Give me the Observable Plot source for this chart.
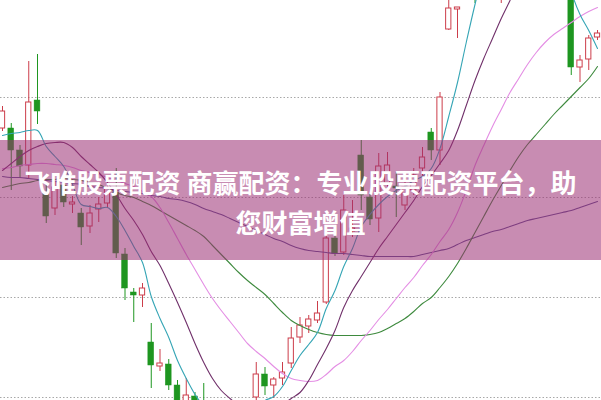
<!DOCTYPE html>
<html>
<head>
<meta charset="utf-8">
<script src="https://cdn.jsdelivr.net/npm/d3@7"></script>
<script src="https://cdn.jsdelivr.net/npm/@observablehq/plot@0.6"></script>
<style>
  html, body { margin: 0; padding: 0; background: #fff; }
  #wrap { position: relative; width: 601px; height: 400px; overflow: hidden; background: #fff; }
  #band {
    position: absolute; left: 0; top: 140px; width: 601px; height: 120px;
    background: rgba(155, 45, 115, 0.55);
    color: #fff; font-family: "Noto Sans CJK SC", "Noto Sans", sans-serif;
    font-weight: 700; font-size: 26px; line-height: 40px; text-align: center;
    box-sizing: border-box; padding-top: 22px; white-space: nowrap;
  }
</style>
</head>
<body>
<div id="wrap">
  <div id="chart"></div>
  <div id="band">飞唯股票配资 商赢配资：专业股票配资平台，助<br>您财富增值</div>
</div>
<script>
// Candle prices (one per trading day)
const open = [11.69, 11.69, 11.47, 11.32, 11.97, 11.04, 10.89, 11.12, 10.93, 10.84,
  10.71, 10.88, 10.94, 11.05, 10.43, 10.05, 10.02, 9.55, 9.31, 9.33,
  9.12, 8.87, 9.01, 8.95, 8.87, 8.57, 8.35, 8.52, 8.42, 9.00,
  9.23, 9.12, 9.19, 9.34, 9.60, 9.71, 9.77, 9.95, 10.59, 10.45,
  10.66, 11.42, 11.00, 10.79, 11.14, 11.11, 10.92, 11.07, 11.29, 11.65,
  11.47, 12.68, 12.88, 13.17, 13.57, 13.27, 13.82, 13.27, 13.92, 14.27,
  13.97, 14.47, 14.67, 14.37, 14.07, 13.67, 12.30, 12.38, 12.60];
const close = [11.86, 11.47, 11.31, 11.95, 11.86, 10.81, 11.10, 10.95, 10.95, 10.70,
  10.84, 10.93, 11.09, 10.44, 10.09, 10.02, 10.09, 9.32, 9.34, 9.12,
  8.87, 9.02, 8.85, 8.77, 8.57, 8.37, 8.52, 8.42, 8.77, 9.23,
  9.11, 9.18, 9.25, 9.59, 9.72, 9.78, 9.84, 10.59, 10.44, 10.87,
  10.69, 11.02, 10.78, 11.31, 11.32, 11.09, 11.10, 11.22, 11.40, 11.47,
  12.00, 12.89, 12.90, 13.67, 13.27, 13.77, 13.47, 13.92, 14.27, 13.97,
  14.47, 14.67, 14.37, 14.07, 13.67, 12.30, 12.37, 12.59, 12.64];
const high = [11.91, 11.74, 11.52, 12.36, 12.43, 11.12, 11.15, 11.19, 11.01, 10.89,
  10.92, 11.00, 11.17, 11.29, 10.49, 10.09, 10.14, 9.74, 9.48, 9.38,
  9.17, 9.19, 9.05, 9.14, 8.92, 8.65, 8.59, 8.62, 8.85, 9.35,
  9.30, 9.20, 9.35, 9.70, 9.80, 9.82, 9.96, 10.64, 10.64, 11.02,
  10.97, 11.57, 11.04, 11.44, 11.45, 11.25, 11.19, 11.29, 11.50, 11.69,
  12.05, 13.02, 12.90, 13.77, 13.72, 13.92, 13.97, 14.07, 14.37, 14.42,
  14.57, 14.82, 14.77, 14.47, 14.17, 13.77, 12.42, 12.62, 12.67];
const low = [11.66, 11.07, 11.19, 11.19, 11.73, 10.74, 10.82, 10.90, 10.84, 10.52,
  10.64, 10.75, 10.89, 10.39, 9.97, 9.75, 9.90, 9.09, 9.26, 9.07,
  8.77, 8.82, 8.77, 8.72, 8.47, 8.27, 8.27, 8.35, 8.37, 8.92,
  9.02, 8.99, 9.12, 9.29, 9.54, 9.64, 9.74, 9.93, 10.41, 10.42,
  10.60, 10.87, 10.72, 10.65, 11.04, 10.80, 10.87, 11.02, 11.05, 11.37,
  11.32, 12.67, 12.59, 13.09, 12.94, 13.19, 13.37, 12.94, 13.82, 13.87,
  13.89, 14.37, 14.27, 13.97, 13.57, 12.22, 12.15, 12.27, 12.57];

// Moving-average lines
const ma5 = [11.62, 11.64, 11.65, 11.67, 11.67, 11.51, 11.41, 11.31, 11.13, 10.93,
  10.91, 10.89, 10.90, 10.81, 10.67, 10.51, 10.35, 10.01, 9.79, 9.60,
  9.37, 9.19, 9.03, 8.91, 8.79, 8.69, 8.65, 8.69, 8.79, 8.91,
  8.97, 9.01, 9.11, 9.27, 9.42, 9.53, 9.65, 9.89, 10.07, 10.31,
  10.49, 10.71, 10.83, 10.93, 11.01, 11.07, 11.11, 11.17, 11.21, 11.29,
  11.49, 11.81, 12.15, 12.55, 12.93, 13.27, 13.57, 13.77, 13.92, 14.07,
  14.17, 14.22, 14.22, 14.12, 13.77, 13.07, 12.83, 12.67, 12.49];
const ma10 = [11.27, 11.34, 11.41, 11.47, 11.51, 11.54, 11.55, 11.55, 11.50, 11.41,
  11.33, 11.25, 11.15, 11.03, 10.89, 10.77, 10.63, 10.46, 10.32, 10.14,
  9.95, 9.75, 9.54, 9.35, 9.19, 9.07, 8.99, 8.92, 8.87, 8.83,
  8.83, 8.87, 8.93, 8.99, 9.05, 9.17, 9.33, 9.49, 9.67, 9.90,
  10.07, 10.21, 10.35, 10.49, 10.61, 10.73, 10.85, 10.97, 11.11, 11.22,
  11.34, 11.47, 11.67, 11.92, 12.17, 12.39, 12.59, 12.79, 12.97, 13.17,
  13.35, 13.49, 13.59, 13.67, 13.69, 13.65, 13.57, 13.47, 13.37];
const ma20 = [11.29, 11.30, 11.32, 11.33, 11.34, 11.34, 11.33, 11.32, 11.30, 11.27,
  11.25, 11.23, 11.20, 11.17, 11.14, 11.11, 11.06, 11.01, 10.90, 10.75,
  10.59, 10.43, 10.28, 10.13, 9.99, 9.87, 9.76, 9.65, 9.54, 9.46,
  9.39, 9.31, 9.24, 9.19, 9.17, 9.16, 9.17, 9.23, 9.31, 9.37,
  9.46, 9.57, 9.67, 9.78, 9.88, 9.99, 10.10, 10.20, 10.32, 10.43,
  10.56, 10.68, 10.85, 11.07, 11.32, 11.52, 11.71, 11.88, 12.05, 12.19,
  12.33, 12.45, 12.55, 12.63, 12.69, 12.75, 12.81, 12.86, 12.90];
const ma30 = [11.10, 11.12, 11.14, 11.15, 11.17, 11.18, 11.18, 11.19, 11.18, 11.17,
  11.15, 11.13, 11.09, 11.05, 11.02, 11.00, 10.96, 10.92, 10.87, 10.82,
  10.77, 10.72, 10.67, 10.61, 10.52, 10.43, 10.34, 10.25, 10.17, 10.10,
  10.03, 9.94, 9.85, 9.77, 9.72, 9.68, 9.65, 9.63, 9.62, 9.62,
  9.62, 9.62, 9.63, 9.65, 9.69, 9.74, 9.79, 9.86, 9.94, 10.00,
  10.10, 10.21, 10.34, 10.49, 10.65, 10.81, 10.97, 11.12, 11.27, 11.41,
  11.53, 11.63, 11.73, 11.83, 11.92, 12.01, 12.10, 12.19, 12.31];
const ma60 = [11.21, 11.20, 11.20, 11.19, 11.18, 11.17, 11.16, 11.15, 11.14, 11.13,
  11.11, 11.10, 11.09, 11.07, 11.06, 11.05, 11.04, 11.02, 11.01, 10.99,
  10.98, 10.96, 10.93, 10.89, 10.86, 10.83, 10.79, 10.75, 10.71, 10.67,
  10.63, 10.59, 10.56, 10.52, 10.49, 10.47, 10.46, 10.45, 10.44, 10.44,
  10.43, 10.42, 10.41, 10.41, 10.41, 10.41, 10.41, 10.41, 10.43, 10.45,
  10.47, 10.49, 10.53, 10.57, 10.60, 10.63, 10.66, 10.68, 10.71, 10.74,
  10.77, 10.79, 10.81, 10.83, 10.85, 10.87, 10.90, 10.93, 10.96];

// Dotted price grid lines
const gridTicks = [9, 10, 11, 12];

const RED = "#cc3d4a", GREEN = "#1e9620";
const idx = d3.range(open.length);
const isUp = i => close[i] >= open[i];
const maLine = (arr, color) => Plot.line(idx, {
  x: i => i, y: i => arr[i], stroke: color, strokeWidth: 1.1, curve: "catmull-rom", clip: true
});

const chart = Plot.plot({
  width: 601, height: 400, margin: 0,
  style: {background: "#fff"},
  x: {domain: [-2 / 8.75, 599 / 8.75], axis: null},
  y: {domain: [8.97, 12.97], axis: null},
  marks: [
    Plot.ruleY(gridTicks, {stroke: "#a8a8a8", strokeWidth: 1, strokeDasharray: "1.5,2"}),
    Plot.ruleX(idx, {filter: i => isUp(i), x: i => i, y1: i => low[i], y2: i => high[i], stroke: RED, clip: true}),
    Plot.ruleX(idx, {filter: i => !isUp(i), x: i => i, y1: i => low[i], y2: i => high[i], stroke: GREEN, clip: true}),
    Plot.rect(idx, {filter: i => isUp(i), x1: i => i - 0.3, x2: i => i + 0.3,
      y1: i => open[i], y2: i => close[i], fill: "#fff", stroke: RED, strokeWidth: 1, clip: true}),
    Plot.rect(idx, {filter: i => !isUp(i), x1: i => i - 0.33, x2: i => i + 0.33,
      y1: i => open[i], y2: i => close[i], fill: GREEN, stroke: GREEN, strokeWidth: 0.5, clip: true}),
    maLine(ma60, "#5c5290"),
    maLine(ma30, "#3e8a3e"),
    maLine(ma20, "#e48ee4"),
    maLine(ma10, "#70306a"),
    maLine(ma5, "#35a5b5")
  ]
});
document.getElementById("chart").appendChild(chart);
</script>
</body>
</html>
